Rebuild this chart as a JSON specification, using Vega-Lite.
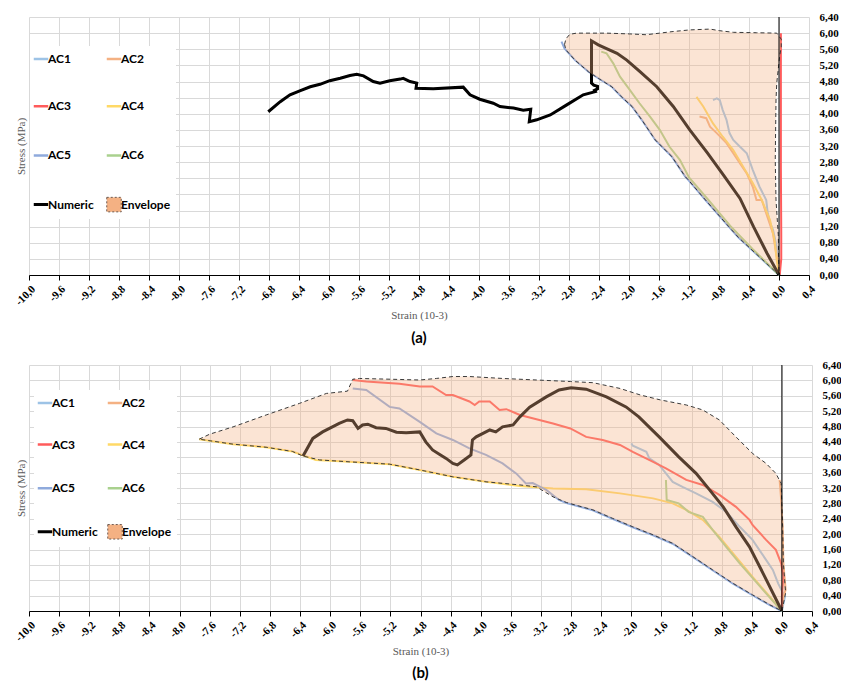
{
  "$schema": "https://vega.github.io/schema/vega-lite/v6.json",
  "background": "white",
  "padding": {"left": 12, "top": 11, "right": 5, "bottom": 4},
  "spacing": 13,
  "config": {
    "view": {"stroke": null},
    "axis": {"gridColor": "#d9d9d9", "gridWidth": 1, "labelOverlap": false}
  },
  "resolve": {"scale": {"color": "independent"}, "legend": {"color": "independent"}},
  "datasets": {
    "a_ac": [
      {"s":"AC1","i":0,"x":-0.88,"y":4.34},{"s":"AC1","i":1,"x":-0.83,"y":4.38},{"s":"AC1","i":2,"x":-0.79,"y":4.34},{"s":"AC1","i":3,"x":-0.75,"y":4.09},{"s":"AC1","i":4,"x":-0.70,"y":3.85},{"s":"AC1","i":5,"x":-0.66,"y":3.52},{"s":"AC1","i":6,"x":-0.61,"y":3.35},{"s":"AC1","i":7,"x":-0.52,"y":3.18},{"s":"AC1","i":8,"x":-0.43,"y":3.02},{"s":"AC1","i":9,"x":-0.35,"y":2.61},{"s":"AC1","i":10,"x":-0.26,"y":2.19},{"s":"AC1","i":11,"x":-0.17,"y":1.86},{"s":"AC1","i":12,"x":-0.15,"y":1.53},{"s":"AC1","i":13,"x":-0.12,"y":1.30},{"s":"AC1","i":14,"x":-0.08,"y":1.12},{"s":"AC1","i":15,"x":-0.03,"y":0.70},{"s":"AC1","i":16,"x":0,"y":0},
      {"s":"AC2","i":0,"x":-1.06,"y":3.93},{"s":"AC2","i":1,"x":-0.97,"y":3.89},{"s":"AC2","i":2,"x":-0.92,"y":3.68},{"s":"AC2","i":3,"x":-0.83,"y":3.52},{"s":"AC2","i":4,"x":-0.70,"y":3.27},{"s":"AC2","i":5,"x":-0.61,"y":3.02},{"s":"AC2","i":6,"x":-0.52,"y":2.77},{"s":"AC2","i":7,"x":-0.43,"y":2.52},{"s":"AC2","i":8,"x":-0.35,"y":2.19},{"s":"AC2","i":9,"x":-0.30,"y":1.86},{"s":"AC2","i":10,"x":-0.23,"y":1.86},{"s":"AC2","i":11,"x":-0.17,"y":1.53},{"s":"AC2","i":12,"x":-0.08,"y":1.03},{"s":"AC2","i":13,"x":-0.03,"y":0.45},{"s":"AC2","i":14,"x":0.01,"y":0.37},{"s":"AC2","i":15,"x":0,"y":0},
      {"s":"AC3","i":0,"x":0.01,"y":0},{"s":"AC3","i":1,"x":0.03,"y":0.4},{"s":"AC3","i":2,"x":0.03,"y":1.0},{"s":"AC3","i":3,"x":0.025,"y":2.7},{"s":"AC3","i":4,"x":0.025,"y":4.3},{"s":"AC3","i":5,"x":0.025,"y":6.0},
      {"s":"AC4","i":0,"x":-1.10,"y":4.42},{"s":"AC4","i":1,"x":-1.01,"y":4.18},{"s":"AC4","i":2,"x":-0.88,"y":3.76},{"s":"AC4","i":3,"x":-0.75,"y":3.43},{"s":"AC4","i":4,"x":-0.61,"y":3.10},{"s":"AC4","i":5,"x":-0.48,"y":2.69},{"s":"AC4","i":6,"x":-0.35,"y":2.28},{"s":"AC4","i":7,"x":-0.23,"y":1.86},{"s":"AC4","i":8,"x":-0.12,"y":1.36},{"s":"AC4","i":9,"x":-0.06,"y":0.87},{"s":"AC4","i":10,"x":-0.03,"y":0.37},{"s":"AC4","i":11,"x":0,"y":0},
      {"s":"AC5","i":0,"x":-2.90,"y":5.79},{"s":"AC5","i":1,"x":-2.86,"y":5.62},{"s":"AC5","i":2,"x":-2.72,"y":5.33},{"s":"AC5","i":3,"x":-2.54,"y":5.04},{"s":"AC5","i":4,"x":-2.41,"y":4.88},{"s":"AC5","i":5,"x":-2.23,"y":4.67},{"s":"AC5","i":6,"x":-2.10,"y":4.42},{"s":"AC5","i":7,"x":-1.96,"y":4.18},{"s":"AC5","i":8,"x":-1.83,"y":3.85},{"s":"AC5","i":9,"x":-1.65,"y":3.35},{"s":"AC5","i":10,"x":-1.43,"y":2.94},{"s":"AC5","i":11,"x":-1.25,"y":2.44},{"s":"AC5","i":12,"x":-1.21,"y":2.36},{"s":"AC5","i":13,"x":-0.98,"y":1.86},{"s":"AC5","i":14,"x":-0.67,"y":1.20},{"s":"AC5","i":15,"x":-0.54,"y":0.93},{"s":"AC5","i":16,"x":0,"y":0},
      {"s":"AC6","i":0,"x":-2.37,"y":5.54},{"s":"AC6","i":1,"x":-2.30,"y":5.50},{"s":"AC6","i":2,"x":-2.21,"y":5.25},{"s":"AC6","i":3,"x":-2.12,"y":4.92},{"s":"AC6","i":4,"x":-1.99,"y":4.59},{"s":"AC6","i":5,"x":-1.86,"y":4.26},{"s":"AC6","i":6,"x":-1.72,"y":3.93},{"s":"AC6","i":7,"x":-1.59,"y":3.60},{"s":"AC6","i":8,"x":-1.46,"y":3.18},{"s":"AC6","i":9,"x":-1.32,"y":2.85},{"s":"AC6","i":10,"x":-1.20,"y":2.42},{"s":"AC6","i":11,"x":-0.95,"y":1.88},{"s":"AC6","i":12,"x":-0.65,"y":1.22},{"s":"AC6","i":13,"x":-0.35,"y":0.64},{"s":"AC6","i":14,"x":0,"y":0}
    ],
    "a_num": [
      {"s":"Numeric","i":0,"x":0,"y":0},{"s":"Numeric","i":1,"x":-0.16,"y":0.54},{"s":"Numeric","i":2,"x":-0.34,"y":1.20},{"s":"Numeric","i":3,"x":-0.52,"y":1.90},{"s":"Numeric","i":4,"x":-0.74,"y":2.48},{"s":"Numeric","i":5,"x":-0.96,"y":3.04},{"s":"Numeric","i":6,"x":-1.19,"y":3.60},{"s":"Numeric","i":7,"x":-1.41,"y":4.18},{"s":"Numeric","i":8,"x":-1.63,"y":4.67},{"s":"Numeric","i":9,"x":-1.85,"y":5.04},{"s":"Numeric","i":10,"x":-2.03,"y":5.33},{"s":"Numeric","i":11,"x":-2.16,"y":5.50},{"s":"Numeric","i":12,"x":-2.41,"y":5.71},{"s":"Numeric","i":13,"x":-2.50,"y":5.81},{"s":"Numeric","i":14,"x":-2.50,"y":4.76},{"s":"Numeric","i":15,"x":-2.47,"y":4.71},{"s":"Numeric","i":16,"x":-2.42,"y":4.68},{"s":"Numeric","i":17,"x":-2.42,"y":4.62},{"s":"Numeric","i":18,"x":-2.46,"y":4.58},{"s":"Numeric","i":19,"x":-2.45,"y":4.55},{"s":"Numeric","i":20,"x":-2.61,"y":4.47},{"s":"Numeric","i":21,"x":-2.83,"y":4.22},{"s":"Numeric","i":22,"x":-3.05,"y":3.97},{"s":"Numeric","i":23,"x":-3.23,"y":3.85},{"s":"Numeric","i":24,"x":-3.33,"y":3.80},{"s":"Numeric","i":25,"x":-3.31,"y":4.11},{"s":"Numeric","i":26,"x":-3.41,"y":4.09},{"s":"Numeric","i":27,"x":-3.54,"y":4.14},{"s":"Numeric","i":28,"x":-3.72,"y":4.18},{"s":"Numeric","i":29,"x":-3.81,"y":4.26},{"s":"Numeric","i":30,"x":-3.99,"y":4.36},{"s":"Numeric","i":31,"x":-4.12,"y":4.47},{"s":"Numeric","i":32,"x":-4.21,"y":4.66},{"s":"Numeric","i":33,"x":-4.61,"y":4.62},{"s":"Numeric","i":34,"x":-4.84,"y":4.63},{"s":"Numeric","i":35,"x":-4.83,"y":4.76},{"s":"Numeric","i":36,"x":-4.92,"y":4.80},{"s":"Numeric","i":37,"x":-5.01,"y":4.88},{"s":"Numeric","i":38,"x":-5.05,"y":4.86},{"s":"Numeric","i":39,"x":-5.19,"y":4.82},{"s":"Numeric","i":40,"x":-5.32,"y":4.76},{"s":"Numeric","i":41,"x":-5.41,"y":4.80},{"s":"Numeric","i":42,"x":-5.54,"y":4.94},{"s":"Numeric","i":43,"x":-5.63,"y":4.98},{"s":"Numeric","i":44,"x":-5.72,"y":4.95},{"s":"Numeric","i":45,"x":-5.85,"y":4.88},{"s":"Numeric","i":46,"x":-5.99,"y":4.82},{"s":"Numeric","i":47,"x":-6.12,"y":4.73},{"s":"Numeric","i":48,"x":-6.25,"y":4.67},{"s":"Numeric","i":49,"x":-6.39,"y":4.57},{"s":"Numeric","i":50,"x":-6.52,"y":4.47},{"s":"Numeric","i":51,"x":-6.65,"y":4.30},{"s":"Numeric","i":52,"x":-6.81,"y":4.05}
    ],
    "a_env": [
      {"i":0,"x":-2.86,"y":5.72},{"i":1,"x":-2.84,"y":5.86},{"i":2,"x":-2.79,"y":5.97},{"i":3,"x":-2.70,"y":6.00},{"i":4,"x":-2.52,"y":6.00},{"i":5,"x":-2.30,"y":6.00},{"i":6,"x":-1.99,"y":5.98},{"i":7,"x":-1.77,"y":5.96},{"i":8,"x":-1.59,"y":6.00},{"i":9,"x":-1.41,"y":6.04},{"i":10,"x":-1.19,"y":6.08},{"i":11,"x":-0.92,"y":6.10},{"i":12,"x":-0.79,"y":6.06},{"i":13,"x":-0.61,"y":6.02},{"i":14,"x":-0.30,"y":6.01},{"i":15,"x":-0.03,"y":6.00},{"i":16,"x":0.03,"y":5.85},{"i":17,"x":0.03,"y":5.65},{"i":18,"x":0.01,"y":5.45},{"i":19,"x":-0.03,"y":4.76},{"i":20,"x":-0.04,"y":4.34},{"i":21,"x":-0.05,"y":2.85},{"i":22,"x":-0.04,"y":1.86},{"i":23,"x":-0.01,"y":1.0},{"i":24,"x":0,"y":0},
      {"i":25,"x":-0.54,"y":0.93},{"i":26,"x":-0.67,"y":1.20},{"i":27,"x":-0.98,"y":1.86},{"i":28,"x":-1.21,"y":2.36},{"i":29,"x":-1.25,"y":2.44},{"i":30,"x":-1.43,"y":2.94},{"i":31,"x":-1.65,"y":3.35},{"i":32,"x":-1.83,"y":3.85},{"i":33,"x":-1.96,"y":4.18},{"i":34,"x":-2.10,"y":4.42},{"i":35,"x":-2.23,"y":4.67},{"i":36,"x":-2.41,"y":4.88},{"i":37,"x":-2.54,"y":5.04},{"i":38,"x":-2.72,"y":5.33},{"i":39,"x":-2.84,"y":5.58},{"i":40,"x":-2.86,"y":5.72}
    ],
    "b_ac": [
      {"s":"AC1","i":0,"x":-2.00,"y":4.36},{"s":"AC1","i":1,"x":-1.98,"y":4.30},{"s":"AC1","i":2,"x":-1.80,"y":4.14},{"s":"AC1","i":3,"x":-1.76,"y":3.97},{"s":"AC1","i":4,"x":-1.63,"y":3.80},{"s":"AC1","i":5,"x":-1.54,"y":3.58},{"s":"AC1","i":6,"x":-1.45,"y":3.36},{"s":"AC1","i":7,"x":-1.32,"y":3.23},{"s":"AC1","i":8,"x":-1.14,"y":3.06},{"s":"AC1","i":9,"x":-0.92,"y":2.84},{"s":"AC1","i":10,"x":-0.74,"y":2.58},{"s":"AC1","i":11,"x":-0.56,"y":2.19},{"s":"AC1","i":12,"x":-0.39,"y":1.85},{"s":"AC1","i":13,"x":-0.30,"y":1.59},{"s":"AC1","i":14,"x":-0.12,"y":1.07},{"s":"AC1","i":15,"x":-0.05,"y":0.72},{"s":"AC1","i":16,"x":0.04,"y":0.37},{"s":"AC1","i":17,"x":0,"y":0},
      {"s":"AC2","i":0,"x":-0.03,"y":3.41},{"s":"AC2","i":1,"x":-0.01,"y":2.90},{"s":"AC2","i":2,"x":0.01,"y":2.20},{"s":"AC2","i":3,"x":0.02,"y":1.24},{"s":"AC2","i":4,"x":0.05,"y":0.55},{"s":"AC2","i":5,"x":0.02,"y":0.37},{"s":"AC2","i":6,"x":0,"y":0},
      {"s":"AC3","i":0,"x":-5.70,"y":6.01},{"s":"AC3","i":1,"x":-5.52,"y":5.97},{"s":"AC3","i":2,"x":-5.08,"y":5.91},{"s":"AC3","i":3,"x":-4.81,"y":5.84},{"s":"AC3","i":4,"x":-4.64,"y":5.84},{"s":"AC3","i":5,"x":-4.46,"y":5.62},{"s":"AC3","i":6,"x":-4.37,"y":5.62},{"s":"AC3","i":7,"x":-4.15,"y":5.45},{"s":"AC3","i":8,"x":-4.08,"y":5.36},{"s":"AC3","i":9,"x":-4.02,"y":5.45},{"s":"AC3","i":10,"x":-3.88,"y":5.45},{"s":"AC3","i":11,"x":-3.75,"y":5.23},{"s":"AC3","i":12,"x":-3.66,"y":5.25},{"s":"AC3","i":13,"x":-3.48,"y":5.10},{"s":"AC3","i":14,"x":-3.26,"y":4.99},{"s":"AC3","i":15,"x":-3.04,"y":4.88},{"s":"AC3","i":16,"x":-2.81,"y":4.75},{"s":"AC3","i":17,"x":-2.60,"y":4.53},{"s":"AC3","i":18,"x":-2.38,"y":4.45},{"s":"AC3","i":19,"x":-2.15,"y":4.32},{"s":"AC3","i":20,"x":-1.98,"y":4.14},{"s":"AC3","i":21,"x":-1.71,"y":3.88},{"s":"AC3","i":22,"x":-1.54,"y":3.71},{"s":"AC3","i":23,"x":-1.27,"y":3.41},{"s":"AC3","i":24,"x":-1.05,"y":3.28},{"s":"AC3","i":25,"x":-0.83,"y":3.02},{"s":"AC3","i":26,"x":-0.61,"y":2.71},{"s":"AC3","i":27,"x":-0.43,"y":2.37},{"s":"AC3","i":28,"x":-0.39,"y":2.24},{"s":"AC3","i":29,"x":-0.21,"y":1.85},{"s":"AC3","i":30,"x":-0.08,"y":1.59},{"s":"AC3","i":31,"x":-0.01,"y":1.24},{"s":"AC3","i":32,"x":0.02,"y":0.90},{"s":"AC3","i":33,"x":0.00,"y":0.37},{"s":"AC3","i":34,"x":0,"y":0},
      {"s":"AC4","i":0,"x":-7.74,"y":4.47},{"s":"AC4","i":1,"x":-7.29,"y":4.34},{"s":"AC4","i":2,"x":-6.85,"y":4.26},{"s":"AC4","i":3,"x":-6.50,"y":4.15},{"s":"AC4","i":4,"x":-6.19,"y":3.93},{"s":"AC4","i":5,"x":-5.74,"y":3.88},{"s":"AC4","i":6,"x":-5.21,"y":3.82},{"s":"AC4","i":7,"x":-4.86,"y":3.69},{"s":"AC4","i":8,"x":-4.37,"y":3.49},{"s":"AC4","i":9,"x":-3.93,"y":3.36},{"s":"AC4","i":10,"x":-3.48,"y":3.25},{"s":"AC4","i":11,"x":-3.04,"y":3.19},{"s":"AC4","i":12,"x":-2.60,"y":3.17},{"s":"AC4","i":13,"x":-2.15,"y":3.06},{"s":"AC4","i":14,"x":-1.71,"y":2.93},{"s":"AC4","i":15,"x":-1.45,"y":2.80},{"s":"AC4","i":16,"x":-1.27,"y":2.63},{"s":"AC4","i":17,"x":-1.05,"y":2.37},{"s":"AC4","i":18,"x":-0.83,"y":1.93},{"s":"AC4","i":19,"x":-0.61,"y":1.41},{"s":"AC4","i":20,"x":-0.39,"y":0.89},{"s":"AC4","i":21,"x":-0.16,"y":0.37},{"s":"AC4","i":22,"x":0,"y":0},
      {"s":"AC5","i":0,"x":-5.70,"y":5.79},{"s":"AC5","i":1,"x":-5.52,"y":5.75},{"s":"AC5","i":2,"x":-5.21,"y":5.31},{"s":"AC5","i":3,"x":-5.08,"y":5.27},{"s":"AC5","i":4,"x":-4.81,"y":4.92},{"s":"AC5","i":5,"x":-4.59,"y":4.62},{"s":"AC5","i":6,"x":-4.37,"y":4.45},{"s":"AC5","i":7,"x":-4.15,"y":4.23},{"s":"AC5","i":8,"x":-3.93,"y":4.06},{"s":"AC5","i":9,"x":-3.71,"y":3.84},{"s":"AC5","i":10,"x":-3.53,"y":3.58},{"s":"AC5","i":11,"x":-3.40,"y":3.32},{"s":"AC5","i":12,"x":-3.31,"y":3.33},{"s":"AC5","i":13,"x":-3.13,"y":3.15},{"s":"AC5","i":14,"x":-2.96,"y":2.89},{"s":"AC5","i":15,"x":-2.86,"y":2.81},{"s":"AC5","i":16,"x":-2.51,"y":2.62},{"s":"AC5","i":17,"x":-2.25,"y":2.40},{"s":"AC5","i":18,"x":-1.98,"y":2.18},{"s":"AC5","i":19,"x":-1.71,"y":1.97},{"s":"AC5","i":20,"x":-1.45,"y":1.75},{"s":"AC5","i":21,"x":-1.18,"y":1.40},{"s":"AC5","i":22,"x":-0.92,"y":1.06},{"s":"AC5","i":23,"x":-0.65,"y":0.71},{"s":"AC5","i":24,"x":-0.39,"y":0.41},{"s":"AC5","i":25,"x":-0.16,"y":0.15},{"s":"AC5","i":26,"x":0,"y":0},
      {"s":"AC6","i":0,"x":-1.54,"y":3.41},{"s":"AC6","i":1,"x":-1.53,"y":2.89},{"s":"AC6","i":2,"x":-1.37,"y":2.80},{"s":"AC6","i":3,"x":-1.24,"y":2.58},{"s":"AC6","i":4,"x":-1.05,"y":2.45},{"s":"AC6","i":5,"x":-0.92,"y":2.11},{"s":"AC6","i":6,"x":-0.74,"y":1.67},{"s":"AC6","i":7,"x":-0.56,"y":1.24},{"s":"AC6","i":8,"x":-0.39,"y":0.86},{"s":"AC6","i":9,"x":-0.21,"y":0.46},{"s":"AC6","i":10,"x":0,"y":0}
    ],
    "b_num": [
      {"s":"Numeric","i":0,"x":0,"y":0},{"s":"Numeric","i":1,"x":-0.25,"y":0.98},{"s":"Numeric","i":2,"x":-0.43,"y":1.67},{"s":"Numeric","i":3,"x":-0.61,"y":2.19},{"s":"Numeric","i":4,"x":-0.78,"y":2.71},{"s":"Numeric","i":5,"x":-0.96,"y":3.15},{"s":"Numeric","i":6,"x":-1.14,"y":3.58},{"s":"Numeric","i":7,"x":-1.37,"y":4.01},{"s":"Numeric","i":8,"x":-1.63,"y":4.53},{"s":"Numeric","i":9,"x":-1.90,"y":5.05},{"s":"Numeric","i":10,"x":-2.07,"y":5.31},{"s":"Numeric","i":11,"x":-2.33,"y":5.57},{"s":"Numeric","i":12,"x":-2.60,"y":5.77},{"s":"Numeric","i":13,"x":-2.80,"y":5.81},{"s":"Numeric","i":14,"x":-2.96,"y":5.75},{"s":"Numeric","i":15,"x":-3.13,"y":5.57},{"s":"Numeric","i":16,"x":-3.35,"y":5.30},{"s":"Numeric","i":17,"x":-3.48,"y":5.05},{"s":"Numeric","i":18,"x":-3.57,"y":4.84},{"s":"Numeric","i":19,"x":-3.71,"y":4.79},{"s":"Numeric","i":20,"x":-3.80,"y":4.66},{"s":"Numeric","i":21,"x":-3.88,"y":4.71},{"s":"Numeric","i":22,"x":-3.97,"y":4.62},{"s":"Numeric","i":23,"x":-4.06,"y":4.53},{"s":"Numeric","i":24,"x":-4.11,"y":4.45},{"s":"Numeric","i":25,"x":-4.13,"y":4.06},{"s":"Numeric","i":26,"x":-4.22,"y":3.93},{"s":"Numeric","i":27,"x":-4.31,"y":3.80},{"s":"Numeric","i":28,"x":-4.37,"y":3.84},{"s":"Numeric","i":29,"x":-4.46,"y":3.97},{"s":"Numeric","i":30,"x":-4.55,"y":4.08},{"s":"Numeric","i":31,"x":-4.64,"y":4.19},{"s":"Numeric","i":32,"x":-4.73,"y":4.40},{"s":"Numeric","i":33,"x":-4.81,"y":4.66},{"s":"Numeric","i":34,"x":-4.99,"y":4.64},{"s":"Numeric","i":35,"x":-5.12,"y":4.65},{"s":"Numeric","i":36,"x":-5.26,"y":4.75},{"s":"Numeric","i":37,"x":-5.39,"y":4.77},{"s":"Numeric","i":38,"x":-5.50,"y":4.86},{"s":"Numeric","i":39,"x":-5.57,"y":4.84},{"s":"Numeric","i":40,"x":-5.63,"y":4.75},{"s":"Numeric","i":41,"x":-5.70,"y":4.95},{"s":"Numeric","i":42,"x":-5.77,"y":4.97},{"s":"Numeric","i":43,"x":-5.88,"y":4.88},{"s":"Numeric","i":44,"x":-5.97,"y":4.79},{"s":"Numeric","i":45,"x":-6.10,"y":4.66},{"s":"Numeric","i":46,"x":-6.23,"y":4.49},{"s":"Numeric","i":47,"x":-6.36,"y":4.03}
    ],
    "b_env": [
      {"i":0,"x":-7.74,"y":4.47},{"i":1,"x":-7.60,"y":4.60},{"i":2,"x":-7.29,"y":4.79},{"i":3,"x":-6.85,"y":5.10},{"i":4,"x":-6.41,"y":5.40},{"i":5,"x":-6.05,"y":5.66},{"i":6,"x":-5.77,"y":5.72},{"i":7,"x":-5.70,"y":6.03},{"i":8,"x":-5.61,"y":6.05},{"i":9,"x":-5.20,"y":6.03},{"i":10,"x":-4.81,"y":6.01},{"i":11,"x":-4.59,"y":6.05},{"i":12,"x":-4.37,"y":6.10},{"i":13,"x":-4.15,"y":6.10},{"i":14,"x":-3.71,"y":6.05},{"i":15,"x":-3.26,"y":6.01},{"i":16,"x":-2.81,"y":5.97},{"i":17,"x":-2.51,"y":5.94},{"i":18,"x":-2.15,"y":5.79},{"i":19,"x":-1.88,"y":5.62},{"i":20,"x":-1.61,"y":5.49},{"i":21,"x":-1.27,"y":5.36},{"i":22,"x":-1.05,"y":5.23},{"i":23,"x":-0.83,"y":4.97},{"i":24,"x":-0.61,"y":4.53},{"i":25,"x":-0.39,"y":4.10},{"i":26,"x":-0.21,"y":3.84},{"i":27,"x":-0.08,"y":3.58},{"i":28,"x":-0.01,"y":3.32},{"i":29,"x":0.01,"y":2.20},{"i":30,"x":0.02,"y":1.24},{"i":31,"x":0.05,"y":0.47},{"i":32,"x":0,"y":0},
      {"i":33,"x":-0.16,"y":0.16},{"i":34,"x":-0.39,"y":0.42},{"i":35,"x":-0.65,"y":0.72},{"i":36,"x":-0.92,"y":1.07},{"i":37,"x":-1.18,"y":1.41},{"i":38,"x":-1.45,"y":1.76},{"i":39,"x":-1.71,"y":1.98},{"i":40,"x":-1.98,"y":2.19},{"i":41,"x":-2.25,"y":2.41},{"i":42,"x":-2.51,"y":2.63},{"i":43,"x":-2.86,"y":2.82},{"i":44,"x":-3.04,"y":2.97},{"i":45,"x":-3.26,"y":3.23},{"i":46,"x":-3.48,"y":3.28},{"i":47,"x":-3.93,"y":3.36},{"i":48,"x":-4.37,"y":3.49},{"i":49,"x":-4.81,"y":3.67},{"i":50,"x":-5.21,"y":3.82},{"i":51,"x":-5.74,"y":3.88},{"i":52,"x":-6.14,"y":3.93},{"i":53,"x":-6.36,"y":4.03},{"i":54,"x":-6.50,"y":4.15},{"i":55,"x":-6.85,"y":4.26},{"i":56,"x":-7.29,"y":4.34},{"i":57,"x":-7.74,"y":4.47}
    ]
  },
  "vconcat": [
    {
      "width": 780,
      "height": 258,
      "title": {"text": "(a)", "orient": "bottom", "anchor": "middle", "font": "Lato", "fontSize": 15, "fontWeight": "bold", "color": "#000000", "offset": 10},
      "resolve": {"axis": {"y": "independent"}},
      "layer": [
        {
          "data": {"name": "a_ac"},
          "mark": {"type": "line", "strokeWidth": 2},
          "encoding": {
            "x": {"field": "x", "type": "quantitative", "scale": {"domain": [-10, 0.4], "nice": false, "zero": false},
              "axis": {"values": [-10,-9.6,-9.2,-8.8,-8.4,-8,-7.6,-7.2,-6.8,-6.4,-6,-5.6,-5.2,-4.8,-4.4,-4,-3.6,-3.2,-2.8,-2.4,-2,-1.6,-1.2,-0.8,-0.4,0,0.4], "tickCount": 27,
                "labelExpr": "(datum.value < 0 ? '-' : '') + replace(format(abs(datum.value), '.1f'), '.', ',')",
                "labelAngle": -45, "labelFont": "Liberation Serif, Times New Roman, DejaVu Serif, serif", "labelFontWeight": "bold", "labelFontSize": 11, "labelColor": "#000000",
                "labelOverlap": false, "labelBound": false, "labelFlush": false, "labelPadding": 3,
                "domainColor": "#000000", "tickColor": "#000000", "tickSize": 5, "grid": true,
                "title": "Strain (10-3)", "titleFont": "Liberation Serif, Times New Roman, DejaVu Serif, serif", "titleFontWeight": "normal", "titleFontSize": 11, "titleColor": "#595959", "titlePadding": 3}},
            "y": {"field": "y", "type": "quantitative", "scale": {"domain": [0, 6.4], "nice": false, "zero": false},
              "axis": {"orient": "right", "values": [0,0.4,0.8,1.2,1.6,2,2.4,2.8,3.2,3.6,4,4.4,4.8,5.2,5.6,6,6.4], "tickCount": 17,
                "labelExpr": "replace(format(datum.value, '.2f'), '.', ',')",
                "labelFont": "Liberation Serif, Times New Roman, DejaVu Serif, serif", "labelFontWeight": "bold", "labelFontSize": 11, "labelColor": "#000000",
                "labelOverlap": false, "labelBound": false, "labelFlush": false, "labelPadding": 10,
                "domain": false, "ticks": false, "grid": true, "title": null}},
            "color": {"field": "s", "type": "nominal",
              "scale": {"domain": ["AC1","AC2","AC3","AC4","AC5","AC6","Numeric","Envelope"], "range": ["#9DC3E6","#F4B183","#FF5B5B","#FFD966","#8FAADC","#A9D18E","#000000","#6E5A50"]},
              "legend": {"orient": "none", "direction": "horizontal", "gridAlign": "all", "legendX": 1, "legendY": 29, "columns": 2, "title": null, "fillColor": "#ffffff", "padding": 5,
                "rowPadding": 29.2, "columnPadding": 3, "symbolType": "stroke", "symbolSize": 210, "symbolStrokeWidth": 2.5,
                "labelFont": "Lato", "labelFontSize": 12, "labelFontWeight": "bold", "labelColor": "#000000", "labelOffset": 1,
                "encode": {"symbols": {"update": {
                  "shape": {"signal": "datum.value === 'Envelope' ? 'square' : 'stroke'"},
                  "fill": {"signal": "datum.value === 'Envelope' ? '#F4B183' : 'transparent'"},
                  "strokeDash": {"signal": "datum.value === 'Envelope' ? [2, 2] : [1, 0]"},
                  "strokeWidth": {"signal": "datum.value === 'Envelope' ? 1 : (datum.value === 'Numeric' ? 3 : 2.5)"}
                }}}}},
            "order": {"field": "i", "type": "quantitative"}
          }
        },
        {
          "data": {"name": "a_num"},
          "mark": {"type": "line", "strokeWidth": 3},
          "encoding": {
            "x": {"field": "x", "type": "quantitative"},
            "y": {"field": "y", "type": "quantitative",
              "axis": {"orient": "left", "labels": false, "ticks": false, "domain": false, "grid": false,
                "title": "Stress (MPa)", "titleFont": "Liberation Serif, Times New Roman, DejaVu Serif, serif", "titleFontWeight": "normal", "titleFontSize": 11, "titleColor": "#595959", "titlePadding": 3}},
            "color": {"field": "s", "type": "nominal"},
            "order": {"field": "i", "type": "quantitative"}
          }
        },
        {
          "data": {"name": "a_env"},
          "mark": {"type": "line", "fill": "#F4B183", "fillOpacity": 0.35, "stroke": "#3a3a3a", "strokeWidth": 1, "strokeDash": [4, 3]},
          "encoding": {
            "x": {"field": "x", "type": "quantitative"},
            "y": {"field": "y", "type": "quantitative", "axis": null},
            "order": {"field": "i", "type": "quantitative"}
          }
        },
        {
          "data": {"values": [{"x": 0}]},
          "mark": {"type": "rule", "color": "#000000", "strokeWidth": 1},
          "encoding": {"x": {"field": "x", "type": "quantitative"}}
        }
      ]
    },
    {
      "width": 783,
      "height": 246,
      "title": {"text": "(b)", "orient": "bottom", "anchor": "middle", "font": "Lato", "fontSize": 15, "fontWeight": "bold", "color": "#000000", "offset": 9},
      "resolve": {"axis": {"y": "independent"}},
      "layer": [
        {
          "data": {"name": "b_ac"},
          "mark": {"type": "line", "strokeWidth": 2},
          "encoding": {
            "x": {"field": "x", "type": "quantitative", "scale": {"domain": [-10, 0.4], "nice": false, "zero": false},
              "axis": {"values": [-10,-9.6,-9.2,-8.8,-8.4,-8,-7.6,-7.2,-6.8,-6.4,-6,-5.6,-5.2,-4.8,-4.4,-4,-3.6,-3.2,-2.8,-2.4,-2,-1.6,-1.2,-0.8,-0.4,0,0.4], "tickCount": 27,
                "labelExpr": "(datum.value < 0 ? '-' : '') + replace(format(abs(datum.value), '.1f'), '.', ',')",
                "labelAngle": -45, "labelFont": "Liberation Serif, Times New Roman, DejaVu Serif, serif", "labelFontWeight": "bold", "labelFontSize": 11, "labelColor": "#000000",
                "labelOverlap": false, "labelBound": false, "labelFlush": false, "labelPadding": 3,
                "domainColor": "#000000", "tickColor": "#000000", "tickSize": 5, "grid": true,
                "title": "Strain (10-3)", "titleFont": "Liberation Serif, Times New Roman, DejaVu Serif, serif", "titleFontWeight": "normal", "titleFontSize": 11, "titleColor": "#595959", "titlePadding": 3}},
            "y": {"field": "y", "type": "quantitative", "scale": {"domain": [0, 6.4], "nice": false, "zero": false},
              "axis": {"orient": "right", "values": [0,0.4,0.8,1.2,1.6,2,2.4,2.8,3.2,3.6,4,4.4,4.8,5.2,5.6,6,6.4], "tickCount": 17,
                "labelExpr": "replace(format(datum.value, '.2f'), '.', ',')",
                "labelFont": "Liberation Serif, Times New Roman, DejaVu Serif, serif", "labelFontWeight": "bold", "labelFontSize": 11, "labelColor": "#000000",
                "labelOverlap": false, "labelBound": false, "labelFlush": false, "labelPadding": 10,
                "domain": false, "ticks": false, "grid": true, "title": null}},
            "color": {"field": "s", "type": "nominal",
              "scale": {"domain": ["AC1","AC2","AC3","AC4","AC5","AC6","Numeric","Envelope"], "range": ["#9DC3E6","#F4B183","#FF5B5B","#FFD966","#8FAADC","#A9D18E","#000000","#6E5A50"]},
              "legend": {"orient": "none", "direction": "horizontal", "gridAlign": "all", "legendX": 5, "legendY": 25, "columns": 2, "title": null, "fillColor": "#ffffff", "padding": 5,
                "rowPadding": 23.6, "columnPadding": 0, "symbolType": "stroke", "symbolSize": 210, "symbolStrokeWidth": 2.5,
                "labelFont": "Lato", "labelFontSize": 12, "labelFontWeight": "bold", "labelColor": "#000000", "labelOffset": 1,
                "encode": {"symbols": {"update": {
                  "shape": {"signal": "datum.value === 'Envelope' ? 'square' : 'stroke'"},
                  "fill": {"signal": "datum.value === 'Envelope' ? '#F4B183' : 'transparent'"},
                  "strokeDash": {"signal": "datum.value === 'Envelope' ? [2, 2] : [1, 0]"},
                  "strokeWidth": {"signal": "datum.value === 'Envelope' ? 1 : (datum.value === 'Numeric' ? 3 : 2.5)"}
                }}}}},
            "order": {"field": "i", "type": "quantitative"}
          }
        },
        {
          "data": {"name": "b_num"},
          "mark": {"type": "line", "strokeWidth": 3},
          "encoding": {
            "x": {"field": "x", "type": "quantitative"},
            "y": {"field": "y", "type": "quantitative",
              "axis": {"orient": "left", "labels": false, "ticks": false, "domain": false, "grid": false,
                "title": "Stress (MPa)", "titleFont": "Liberation Serif, Times New Roman, DejaVu Serif, serif", "titleFontWeight": "normal", "titleFontSize": 11, "titleColor": "#595959", "titlePadding": 3}},
            "color": {"field": "s", "type": "nominal"},
            "order": {"field": "i", "type": "quantitative"}
          }
        },
        {
          "data": {"name": "b_env"},
          "mark": {"type": "line", "fill": "#F4B183", "fillOpacity": 0.35, "stroke": "#3a3a3a", "strokeWidth": 1, "strokeDash": [4, 3]},
          "encoding": {
            "x": {"field": "x", "type": "quantitative"},
            "y": {"field": "y", "type": "quantitative", "axis": null},
            "order": {"field": "i", "type": "quantitative"}
          }
        },
        {
          "data": {"values": [{"x": 0}]},
          "mark": {"type": "rule", "color": "#000000", "strokeWidth": 1},
          "encoding": {"x": {"field": "x", "type": "quantitative"}}
        }
      ]
    }
  ]
}
